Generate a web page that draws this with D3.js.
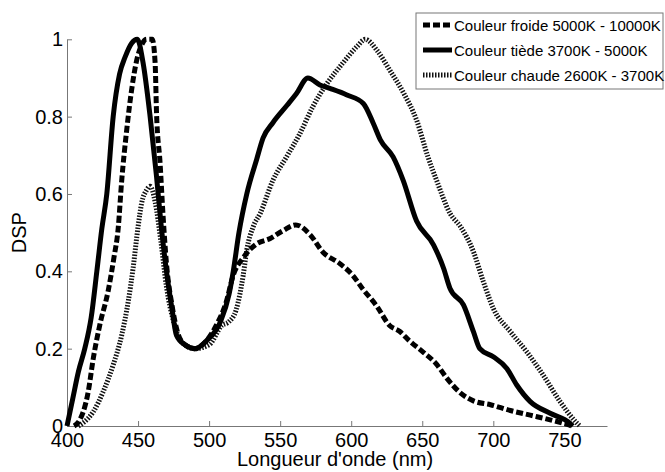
<!DOCTYPE html>
<html lang="fr">
<head>
<meta charset="utf-8">
<title>DSP</title>
<script src="https://d3js.org/d3.v7.min.js"></script>
<style>
  body { margin: 0; background: #fff; }
  svg text { font-family: "Liberation Sans", Arial, sans-serif; fill: #000; }
</style>
</head>
<body>
<div id="chart"></div>
<script>
// chart values
var seriesNames = ["Couleur froide 5000K - 10000K", "Couleur tiède 3700K - 5000K", "Couleur chaude 2600K - 3700K"];
var xTicks = [400, 450, 500, 550, 600, 650, 700, 750];
var yTicks = [0, 0.2, 0.4, 0.6, 0.8, 1];

var froideNm = [405, 408, 415, 418.5, 423, 429, 433, 436, 438.5, 442, 445.5, 449, 452.5, 456, 460, 462, 463, 465.5, 467.5, 470, 474, 478, 483, 490, 498, 505, 512, 517, 524, 533, 543, 552, 561, 571, 580, 592, 601, 608, 618, 627, 634, 641, 651, 660, 667, 677, 686, 698, 712, 726, 740, 752, 755];
var froideVal = [0, 0.01, 0.09, 0.175, 0.26, 0.35, 0.435, 0.51, 0.635, 0.765, 0.87, 0.945, 0.985, 1.0, 1.0, 0.94, 0.81, 0.68, 0.55, 0.42, 0.31, 0.24, 0.21, 0.2, 0.22, 0.26, 0.32, 0.39, 0.435, 0.47, 0.485, 0.505, 0.52, 0.495, 0.45, 0.42, 0.39, 0.355, 0.31, 0.26, 0.245, 0.22, 0.19, 0.16, 0.125, 0.085, 0.065, 0.055, 0.04, 0.028, 0.016, 0.004, 0];

var tiedeNm = [400, 404, 408, 412.5, 417, 421, 424.5, 428, 432.5, 437, 441, 445.5, 449.5, 453.5, 458.5, 463, 466.5, 470, 474, 477, 483, 490, 498, 508, 514, 517, 521, 526.5, 533.5, 538, 545, 555, 561.5, 569.5, 578, 585, 597, 608.5, 615.5, 620.5, 629.5, 636.5, 646, 658, 665, 669.5, 679, 686, 690.5, 700, 709.5, 716.5, 726, 740, 754, 756];
var tiedeVal = [0, 0.07, 0.14, 0.2, 0.28, 0.4, 0.51, 0.6, 0.8, 0.91, 0.955, 0.99, 1.0, 0.94, 0.8, 0.645, 0.51, 0.4, 0.3, 0.235, 0.21, 0.2, 0.22, 0.27, 0.34, 0.4, 0.5, 0.6, 0.69, 0.745, 0.785, 0.83, 0.86, 0.9, 0.882, 0.873, 0.856, 0.834, 0.783, 0.74, 0.696, 0.636, 0.53, 0.468, 0.408, 0.356, 0.313, 0.244, 0.2, 0.179, 0.149, 0.106, 0.063, 0.033, 0.007, 0];

var chaudeNm = [408, 412, 418.5, 425.5, 432.5, 438.5, 443, 446.5, 450, 452.5, 456, 458.5, 462, 466, 470, 475, 480, 490, 500, 509, 514, 519, 524, 526.5, 531, 536, 545, 554.5, 564, 573, 583, 594, 604, 610, 618, 627, 637, 646, 654, 660, 669.5, 677, 686, 693, 700, 712, 723.5, 735, 747, 759, 761];
var chaudeVal = [0, 0.01, 0.037, 0.089, 0.158, 0.235, 0.32, 0.408, 0.515, 0.576, 0.61, 0.62, 0.58, 0.48, 0.36, 0.27, 0.22, 0.2, 0.21, 0.26, 0.27, 0.3, 0.39, 0.455, 0.515, 0.55, 0.636, 0.696, 0.757, 0.826, 0.886, 0.938, 0.981, 1.0, 0.972, 0.921, 0.86, 0.791, 0.696, 0.636, 0.55, 0.515, 0.451, 0.373, 0.304, 0.244, 0.192, 0.132, 0.063, 0.007, 0];

var w = 665, h = 472;
var svg = d3.select("#chart").append("svg")
  .attr("width", w)
  .attr("height", h);

var x = d3.scaleLinear().domain([400, 780]).range([67, 607]);
var y = d3.scaleLinear().domain([0, 1]).range([426, 39.3]);

// line styles: dashed, solid, hatched (thick dotted)
var styles = [
  { stroke: "#000", width: 5, dash: "7,3" },
  { stroke: "#000", width: 5, dash: null },
  { stroke: "#111", width: 5, dash: "1.5,1.5" }
];

function pairs(nm, val) {
  return nm.map(function(d, i) { return [d, val[i]]; });
}
var data = [pairs(froideNm, froideVal), pairs(tiedeNm, tiedeVal), pairs(chaudeNm, chaudeVal)];

var line = d3.line()
  .curve(d3.curveMonotoneX)
  .x(function(d) { return x(d[0]); })
  .y(function(d) { return y(d[1]); });

// axes
var xAxis = d3.axisBottom(x).tickValues(xTicks).tickSizeInner(-5).tickSizeOuter(0).tickPadding(7);
var yAxis = d3.axisLeft(y).tickValues(yTicks).tickSizeInner(-5).tickSizeOuter(0).tickPadding(4)
  .tickFormat(function(d) { return d3.format("")(d); });

var gx = svg.append("g").attr("transform", "translate(0," + y(0) + ")").call(xAxis);
var gy = svg.append("g").attr("transform", "translate(" + x(400) + ",0)").call(yAxis);
[gx, gy].forEach(function(g) {
  g.select(".domain").attr("stroke", "#777").attr("stroke-width", 1);
  g.selectAll(".tick line").attr("stroke", "#777");
  g.selectAll(".tick text").attr("font-size", "20px")
    .attr("font-family", "Liberation Sans, Arial, sans-serif").attr("fill", "#000");
});

// curves (chaude under the others)
[2, 0, 1].forEach(function(i) {
  svg.append("path")
    .datum(data[i])
    .attr("fill", "none")
    .attr("stroke", styles[i].stroke)
    .attr("stroke-width", styles[i].width)
    .attr("stroke-dasharray", styles[i].dash)
    .attr("stroke-linejoin", "round")
    .attr("d", line);
});

// axis labels
svg.append("text").text("Longueur d'onde (nm)")
  .attr("x", 335).attr("y", 466).attr("text-anchor", "middle").attr("font-size", "20px");
svg.append("text").text("DSP")
  .attr("transform", "translate(26," + y(0.5) + ") rotate(-90)")
  .attr("text-anchor", "middle").attr("font-size", "20px");

// legend
var lg = svg.append("g");
lg.append("rect")
  .attr("x", 416).attr("y", 13).attr("width", 247).attr("height", 76)
  .attr("fill", "#fff").attr("stroke", "#777").attr("stroke-width", 1);
seriesNames.forEach(function(name, i) {
  var ly = 25 + i * 25;
  lg.append("line")
    .attr("x1", 423).attr("x2", 452).attr("y1", ly).attr("y2", ly)
    .attr("stroke", styles[i].stroke)
    .attr("stroke-width", styles[i].width)
    .attr("stroke-dasharray", styles[i].dash);
  lg.append("text").text(name)
    .attr("x", 454).attr("y", ly + 5.5).attr("font-size", "15px");
});
</script>
</body>
</html>
